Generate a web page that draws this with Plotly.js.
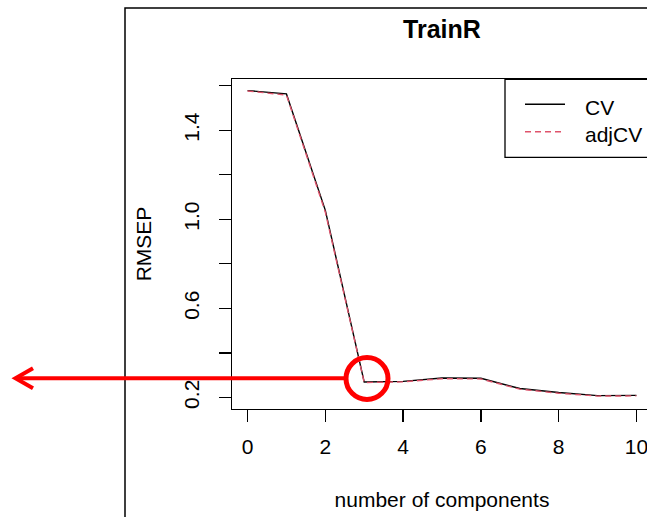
<!DOCTYPE html>
<html>
<head>
<meta charset="utf-8">
<script src="https://cdn.plot.ly/plotly-3.0.1.min.js"></script>
<style>
html, body { margin: 0; padding: 0; overflow: hidden; background: #fff; }
#chart { width: 660px; height: 517px; }
</style>
</head>
<body>
<div id="chart"></div>
<script>
// ---- data ----
const components = [0, 1, 2, 3, 4, 5, 6, 7, 8, 9, 10];
const cvValues    = [1.578, 1.563, 1.040, 0.269, 0.272, 0.287, 0.286, 0.240, 0.222, 0.208, 0.209];
const adjCvValues = [1.576, 1.558, 1.032, 0.267, 0.270, 0.284, 0.283, 0.237, 0.219, 0.206, 0.207];
const seriesNames = ["CV", "adjCV"];
const xTickVals = [0, 2, 4, 6, 8, 10];
const yTickVals = [0.2, 0.4, 0.6, 0.8, 1.0, 1.2, 1.4, 1.6];
const yTickText = ["0.2", "", "0.6", "", "1.0", "", "1.4", ""];
const chartTitle = "TrainR";
const xLabel = "number of components";
const yLabel = "RMSEP";

// ---- layout geometry ----
const W = 660, H = 517, ML = 232, MR = 8, MT = 79, MB = 108;
const PW = W - ML - MR, PH = H - MT - MB;
const fx = px => (px - ML) / PW;
const fy = py => (H - MB - py) / PH;

const FONT = '"Liberation Sans", Arial, Helvetica, sans-serif';
const cvColor = '#000000', adjColor = '#DF536B', red = '#FF0000';

const traces = [
  { x: components, y: cvValues, name: seriesNames[0], type: 'scatter', mode: 'lines',
    line: { color: cvColor, width: 1.4 }, showlegend: false },
  { x: components, y: adjCvValues, name: seriesNames[1], type: 'scatter', mode: 'lines',
    line: { color: adjColor, width: 1.4, dash: '6px,4px' }, showlegend: false }
];

const shapes = [
  // outer figure frame
  { type: 'rect', xref: 'paper', yref: 'paper', x0: fx(125), x1: fx(1000), y0: fy(900), y1: fy(8),
    line: { color: '#000', width: 1.5 }, layer: 'below' },
  // legend box
  { type: 'rect', xref: 'paper', yref: 'paper', x0: fx(505), x1: fx(800), y0: fy(157.3), y1: fy(79.3),
    line: { color: '#000', width: 1.3 } },
  { type: 'line', xref: 'paper', yref: 'paper', x0: fx(525), x1: fx(565), y0: fy(104.3), y1: fy(104.3),
    line: { color: cvColor, width: 1.4 } },
  { type: 'line', xref: 'paper', yref: 'paper', x0: fx(525), x1: fx(565), y0: fy(131.7), y1: fy(131.7),
    line: { color: adjColor, width: 1.4, dash: '6px,4px' } },
  // red highlight annotation
  { type: 'circle', xref: 'paper', yref: 'paper', x0: fx(367 - 21), x1: fx(367 + 21), y0: fy(378.5 + 21), y1: fy(378.5 - 21),
    line: { color: red, width: 5 } },
  { type: 'line', xref: 'paper', yref: 'paper', x0: fx(344), x1: fx(17), y0: fy(378.3), y1: fy(378.3),
    line: { color: red, width: 4 } },
  { type: 'path', xref: 'paper', yref: 'paper',
    path: `M ${fx(33)} ${fy(368.3)} L ${fx(15.5)} ${fy(378.3)} L ${fx(33)} ${fy(388.3)}`,
    line: { color: red, width: 4 } }
];

const annotations = [
  { xref: 'paper', yref: 'paper', x: fx(582.7), y: fy(107.5), text: seriesNames[0], showarrow: false,
    xanchor: 'left', yanchor: 'middle', font: { family: FONT, size: 21, color: '#000' } },
  { xref: 'paper', yref: 'paper', x: fx(582.7), y: fy(134.9), text: seriesNames[1], showarrow: false,
    xanchor: 'left', yanchor: 'middle', font: { family: FONT, size: 21, color: '#000' } }
];

const layout = {
  width: W, height: H,
  margin: { l: ML, r: MR, t: MT, b: MB, pad: 0 },
  paper_bgcolor: '#fff', plot_bgcolor: '#fff',
  font: { family: FONT, size: 21, color: '#000' },
  title: { text: '<b>' + chartTitle + '</b>', font: { family: FONT, size: 25, color: '#000' },
    xref: 'paper', x: 0.5, xanchor: 'center', yref: 'container', y: 1 - 29 / H, yanchor: 'middle' },
  xaxis: {
    range: [-0.4, 10.4], tickvals: xTickVals, ticktext: xTickVals.map(String),
    showgrid: false, zeroline: false, showline: true, linecolor: '#000', linewidth: 1.3, mirror: true,
    ticks: 'outside', ticklen: 12, tickwidth: 1.3, tickcolor: '#000', ticklabelstandoff: 6,
    tickfont: { family: FONT, size: 21, color: '#000' },
    title: { text: xLabel, standoff: 35, font: { family: FONT, size: 21, color: '#000' } }
  },
  yaxis: {
    range: [0.148, 1.630], tickvals: yTickVals, ticktext: yTickText, tickangle: -90,
    showgrid: false, zeroline: false, showline: true, linecolor: '#000', linewidth: 1.3, mirror: true,
    ticks: 'outside', ticklen: 12, tickwidth: 1.3, tickcolor: '#000', ticklabelstandoff: 11,
    tickfont: { family: FONT, size: 21, color: '#000' },
    title: { text: yLabel, standoff: 23, font: { family: FONT, size: 21, color: '#000' } }
  },
  shapes: shapes, annotations: annotations, showlegend: false
};

Plotly.newPlot('chart', traces, layout, { staticPlot: true, displayModeBar: false });
</script>
</body>
</html>
